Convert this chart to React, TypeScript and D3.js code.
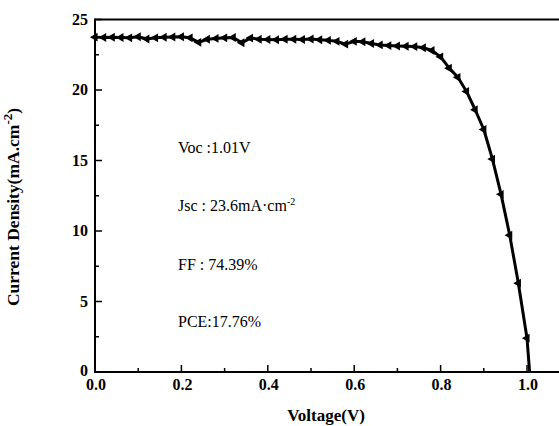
import React from "react";
import * as d3 from "d3";

const voltage = [
  0.0, 0.02, 0.04, 0.06, 0.08, 0.1, 0.12, 0.14, 0.16, 0.18,
  0.2, 0.22, 0.24, 0.26, 0.28, 0.3, 0.32, 0.34, 0.36, 0.38,
  0.4, 0.42, 0.44, 0.46, 0.48, 0.5, 0.52, 0.54, 0.56, 0.58,
  0.6, 0.62, 0.64, 0.66, 0.68, 0.7, 0.72, 0.74, 0.76, 0.78,
  0.8, 0.82, 0.84, 0.86, 0.88, 0.9, 0.92, 0.94, 0.96, 0.98,
  1.0, 1.006,
];
const current = [
  23.75, 23.72, 23.74, 23.72, 23.7, 23.78, 23.62, 23.7, 23.74, 23.76,
  23.78, 23.7, 23.38, 23.6, 23.66, 23.7, 23.72, 23.35, 23.68, 23.6,
  23.58, 23.56, 23.6, 23.6, 23.58, 23.62, 23.56, 23.52, 23.45, 23.25,
  23.45, 23.42, 23.3, 23.2, 23.15, 23.12, 23.1, 23.08, 23.0, 22.8,
  22.35, 21.55, 20.9, 19.9, 18.6, 17.2, 15.1, 12.6, 9.7, 6.3,
  2.4, 0.0,
];
const xTicks = [0, 0.2, 0.4, 0.6, 0.8, 1.0];
const xMinor = [0.1, 0.3, 0.5, 0.7, 0.9, 1.1];
const yTicks = [0, 5, 10, 15, 20, 25];
const yMinor = [2.5, 7.5, 12.5, 17.5, 22.5];
const annotations = ["Voc :1.01V", "Jsc : 23.6mA·cm", "FF : 74.39%", "PCE:17.76%"];

export default function App() {
  const W = 559, H = 426;
  const x = d3.scaleLinear().domain([0, 1.0]).range([95, 527]);
  const y = d3.scaleLinear().domain([0, 25]).range([372, 19.5]);
  const pts = voltage.map((v, i) => [v, current[i]] as [number, number]);
  const line = d3.line<[number, number]>().x(d => x(d[0])).y(d => y(d[1]));
  const tri = d3.symbol().type(d3.symbolTriangle).size(34)() as string;
  const font = "'Liberation Serif', 'Times New Roman', serif";
  const annY = [153, 211, 270, 327];
  return (
    <svg width={W} height={H} style={{ position: "absolute", left: 0, top: 0, background: "#fff" }}>
      <rect x={0} y={0} width={W} height={H} fill="#fff" />
      {/* frame */}
      <line x1={x(0)} x2={W} y1={y(0)} y2={y(0)} stroke="#000" strokeWidth={2} />
      <line x1={x(0)} x2={W} y1={y(25)} y2={y(25)} stroke="#000" strokeWidth={2} />
      <line x1={x(0)} x2={x(0)} y1={y(0) + 1} y2={y(25) - 1} stroke="#000" strokeWidth={2} />
      {/* x ticks */}
      {xTicks.map(t => (
        <g key={"xt" + t}>
          <line x1={x(t)} x2={x(t)} y1={y(0)} y2={y(0) - 7} stroke="#000" strokeWidth={1.5} />
          <text x={x(t) + 1} y={390} textAnchor="middle" fontFamily={font} fontWeight="bold" fontSize={16}>
            {t.toFixed(1)}
          </text>
        </g>
      ))}
      {xMinor.map(t => (
        <line key={"xm" + t} x1={x(t)} x2={x(t)} y1={y(0)} y2={y(0) - 4} stroke="#000" strokeWidth={1.5} />
      ))}
      {/* y ticks */}
      {yTicks.map(t => (
        <g key={"yt" + t}>
          <line x1={x(0)} x2={x(0) + 7} y1={y(t)} y2={y(t)} stroke="#000" strokeWidth={1.5} />
          <text x={88} y={y(t) + (t === 0 ? 4 : 5)} textAnchor="end" fontFamily={font} fontWeight="bold" fontSize={16}>
            {t}
          </text>
        </g>
      ))}
      {yMinor.map(t => (
        <line key={"ym" + t} x1={x(0)} x2={x(0) + 4} y1={y(t)} y2={y(t)} stroke="#000" strokeWidth={1.5} />
      ))}
      {/* axis titles */}
      <text x={326} y={421} textAnchor="middle" fontFamily={font} fontWeight="bold" fontSize={17}>
        Voltage(V)
      </text>
      <text
        transform="translate(19,207) rotate(-90)"
        textAnchor="middle"
        fontFamily={font}
        fontWeight="bold"
        fontSize={17.5}
      >
        Current Density(mA.cm<tspan dy={-7} fontSize={13}>-2</tspan><tspan dy={7}>)</tspan>
      </text>
      {/* annotations */}
      {annotations.map((a, i) => (
        <text key={a} x={178} y={annY[i]} fontFamily={font} fontSize={16}>
          {a}
          {i === 1 ? <tspan dy={-6} fontSize={10}>-2</tspan> : null}
        </text>
      ))}
      {/* curve */}
      <path d={line(pts) as string} fill="none" stroke="#000" strokeWidth={3} strokeLinejoin="round" />
      {pts.slice(0, pts.length - 1).map((p, i) => (
        <path
          key={"m" + i}
          d={tri}
          transform={`translate(${x(p[0])},${y(p[1])}) rotate(-90)`}
          fill="#000"
        />
      ))}
    </svg>
  );
}
